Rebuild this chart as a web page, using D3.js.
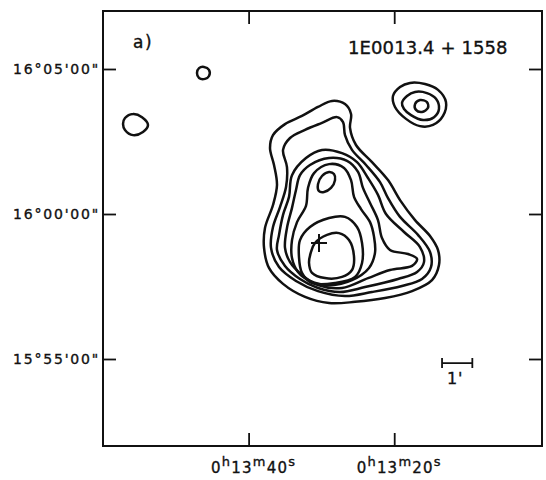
<!DOCTYPE html>
<html>
<head>
<meta charset="utf-8">
<script src="https://cdn.jsdelivr.net/npm/d3@7"></script>
<style>
  body { margin: 0; background: #fff; }
  text { font-family: "DejaVu Sans", "Liberation Sans", sans-serif; fill: #111; stroke: #111; stroke-width: 0.35; }
</style>
</head>
<body>
<svg id="chart" width="546" height="480"></svg>
<script>
// axis domains: RA in seconds past 0h13m, Dec in arcmin from 16°00'00"
const raDomain = [60, -0.3];
const decDomain = [-8, 7];

const raTicks = [40, 20];
const raTickLabels = [["0", "h", "13", "m", "40", "s"], ["0", "h", "13", "m", "20", "s"]];
const decTicks = [5, 0, -5];
const decTickLabels = ["16°05'00\"", "16°00'00\"", "15°55'00\""];

const title = "1E0013.4 + 1558";
const panel = "a)";

const c1 = [[28.54,3.90],[26.76,3.79],[25.93,3.45],[26.07,2.97],[25.25,2.38],[23.05,1.79],[20.85,1.17],[19.20,0.48],[17.14,-0.21],[15.08,-0.76],[13.99,-1.24],[13.85,-1.76],[14.81,-2.28],[17.55,-2.66],[21.26,-2.90],[25.38,-3.03],[28.95,-3.07],[32.25,-2.86],[35.27,-2.41],[37.20,-1.86],[37.88,-1.17],[37.75,-0.48],[36.65,0.31],[36.10,1.00],[36.51,1.69],[37.06,2.28],[36.65,2.72],[35.00,3.10],[32.67,3.38],[30.47,3.69]];
const c2 = [[27.85,3.34],[27.03,3.17],[26.76,2.72],[25.80,2.21],[23.87,1.69],[21.95,1.10],[20.85,0.55],[19.20,-0.10],[16.73,-0.72],[15.08,-1.31],[14.95,-1.83],[16.18,-2.24],[18.93,-2.48],[23.05,-2.69],[26.76,-2.83],[30.47,-2.66],[33.49,-2.31],[35.82,-1.83],[36.92,-1.17],[36.65,-0.45],[35.69,0.24],[34.86,0.93],[34.73,1.62],[35.27,2.21],[34.31,2.62],[32.25,2.90],[29.92,3.14]];
const c3 = [[29.92,2.21],[27.17,2.10],[25.11,1.79],[23.60,1.24],[22.23,0.66],[21.13,0.00],[18.65,-0.62],[16.46,-1.14],[15.91,-1.66],[16.86,-2.00],[19.48,-2.24],[24.01,-2.52],[27.44,-2.69],[30.47,-2.55],[32.94,-2.24],[35.00,-1.79],[36.10,-1.24],[35.82,-0.72],[35.27,-0.03],[34.45,0.59],[34.04,1.34],[32.12,1.93]];
const c4 = [[31.57,1.69],[28.95,1.93],[26.48,1.83],[24.97,1.45],[24.29,0.90],[23.32,0.38],[22.23,-0.21],[21.68,-0.83],[20.58,-1.24],[18.10,-1.38],[16.86,-1.55],[17.55,-1.79],[20.58,-1.93],[23.60,-2.21],[27.17,-2.55],[30.47,-2.45],[32.67,-2.10],[34.31,-1.66],[35.00,-1.17],[34.73,-0.48],[34.04,0.21],[33.49,0.83],[32.94,1.34]];
const c5 = [[28.95,1.72],[26.89,1.59],[25.93,1.17],[25.52,0.59],[24.56,0.17],[23.32,-0.28],[22.77,-0.79],[22.64,-1.34],[23.46,-1.86],[25.80,-2.28],[28.81,-2.45],[31.57,-2.31],[33.22,-2.00],[34.04,-1.52],[34.04,-0.90],[33.35,-0.28],[32.12,0.28],[31.84,0.90],[31.01,1.41]];
const peakNorth = [[30.33,0.79],[30.47,1.03],[29.92,1.31],[28.95,1.45],[28.27,1.38],[28.13,1.17],[28.68,0.90],[29.64,0.76]];
const peakSouth = [[32.94,-0.90],[31.57,-0.45],[28.95,-0.14],[26.76,-0.10],[25.11,-0.45],[24.42,-1.00],[24.42,-1.69],[25.38,-2.17],[28.13,-2.38],[31.29,-2.38],[32.67,-2.03],[33.08,-1.48]];
const peakInner = [[30.88,-1.00],[29.23,-0.72],[27.58,-0.66],[26.21,-0.90],[25.52,-1.48],[25.80,-1.93],[27.17,-2.17],[29.50,-2.21],[31.29,-2.03],[31.70,-1.69],[31.43,-1.31]];

const neOuter = [[20.17,4.07],[19.20,4.38],[17.83,4.52],[15.77,4.48],[13.98,4.28],[12.89,3.86],[13.30,3.38],[14.67,3.07],[16.46,3.03],[18.38,3.28],[19.89,3.69]];
const neMiddle = [[18.93,3.83],[18.24,4.07],[17.14,4.21],[15.50,4.17],[14.26,3.97],[13.85,3.62],[14.53,3.34],[16.04,3.24],[17.69,3.41],[18.65,3.62]];
const neInner = [[17.14,3.79],[16.46,3.93],[15.50,3.86],[15.36,3.66],[16.18,3.52],[17.01,3.59]];

const spotA = [[47.09,4.86],[46.81,5.03],[46.13,5.07],[45.44,4.97],[45.44,4.76],[45.99,4.66],[46.81,4.69]];
const spotB = [[56.98,3.31],[55.88,3.45],[54.64,3.34],[53.82,3.07],[54.51,2.83],[55.88,2.72],[56.98,2.90],[57.25,3.10]];

const contours = [c1, c2, c3, c4, c5, peakNorth, peakSouth, peakInner, neOuter, neMiddle, neInner, spotA, spotB];

// X-ray position and 1 arcmin scale bar
const crossPos = [30.33, -1.00];
const barStart = [13.43, -5.14];
const barLength = 60 / (15 * Math.cos(16 * Math.PI / 180)); // 1' in RA seconds

const svg = d3.select('#chart');
const x = d3.scaleLinear().domain(raDomain).range([103, 542]);
const y = d3.scaleLinear().domain(decDomain).range([446, 11]);

const tick = 13;

const lineConfig = g => {
  g.select('.domain').remove();
  g.selectAll('line').attr('stroke', '#111').attr('stroke-width', 1.8);
};

// left ticks with labels
svg.append('g')
  .attr('transform', `translate(${x.range()[0]},0)`)
  .call(d3.axisLeft(y).tickValues(decTicks).tickSize(-tick).tickPadding(3)
    .tickFormat((d, i) => decTickLabels[i]))
  .call(lineConfig)
  .selectAll('text')
    .attr('font-size', 14)
    .attr('letter-spacing', 1.8)
    .attr('font-family', '"DejaVu Sans", "Liberation Sans", sans-serif')
    .attr('fill', '#111');

// right ticks
svg.append('g')
  .attr('transform', `translate(${x.range()[1]},0)`)
  .call(d3.axisRight(y).tickValues(decTicks).tickSize(-tick).tickFormat(''))
  .call(lineConfig);

// bottom ticks
svg.append('g')
  .attr('transform', `translate(0,${y.range()[0]})`)
  .call(d3.axisBottom(x).tickValues(raTicks).tickSize(-tick).tickFormat(''))
  .call(lineConfig);

// top ticks
svg.append('g')
  .attr('transform', `translate(0,${y.range()[1]})`)
  .call(d3.axisTop(x).tickValues(raTicks).tickSize(-tick).tickFormat(''))
  .call(lineConfig);

// RA labels with superscripts
raTicks.forEach((t, i) => {
  const txt = svg.append('text')
    .attr('x', x(t) + 5)
    .attr('y', 473)
    .attr('text-anchor', 'middle')
    .attr('font-size', 15)
    .attr('letter-spacing', 1.2);
  raTickLabels[i].forEach((s, j) => {
    const sup = j % 2 === 1;
    txt.append('tspan')
      .attr('dy', j === 0 ? 0 : (sup ? -7 : 7))
      .attr('font-size', sup ? 13 : 15)
      .text(s);
  });
});

// frame
svg.append('rect')
  .attr('x', x.range()[0])
  .attr('y', y.range()[1])
  .attr('width', x.range()[1] - x.range()[0])
  .attr('height', y.range()[0] - y.range()[1])
  .attr('fill', 'none')
  .attr('stroke', '#111')
  .attr('stroke-width', 2);

const line = d3.line()
  .curve(d3.curveCatmullRomClosed.alpha(0.5))
  .x(d => x(d[0]))
  .y(d => y(d[1]));

svg.append('g')
  .selectAll('path')
  .data(contours)
  .enter().append('path')
    .attr('d', line)
    .attr('fill', 'none')
    .attr('stroke', '#111')
    .attr('stroke-width', 2.5)
    .attr('stroke-linejoin', 'round');

// cross at X-ray position
const cx = x(crossPos[0]), cy = y(crossPos[1]);
svg.append('path')
  .attr('d', `M${cx - 8},${cy}H${cx + 8}M${cx},${cy - 9}V${cy + 9}`)
  .attr('stroke', '#111')
  .attr('stroke-width', 2);

// scale bar
const bx0 = x(barStart[0]), bx1 = x(barStart[0] - barLength), by = y(barStart[1]);
svg.append('path')
  .attr('d', `M${bx0},${by}H${bx1}M${bx0},${by - 5}V${by + 5}M${bx1},${by - 5}V${by + 5}`)
  .attr('stroke', '#111')
  .attr('stroke-width', 1.8)
  .attr('fill', 'none');
svg.append('text')
  .attr('x', (bx0 + bx1) / 2 - 2)
  .attr('y', by + 21)
  .attr('text-anchor', 'middle')
  .attr('font-size', 16)
  .attr('letter-spacing', 1)
  .text("1'");

svg.append('text')
  .attr('x', 348)
  .attr('y', 54)
  .attr('font-size', 18)
  .attr('letter-spacing', 0.1)
  .text(title);

svg.append('text')
  .attr('x', 133)
  .attr('y', 48)
  .attr('font-size', 17)
  .attr('letter-spacing', 1.5)
  .text(panel);
</script>
</body>
</html>
